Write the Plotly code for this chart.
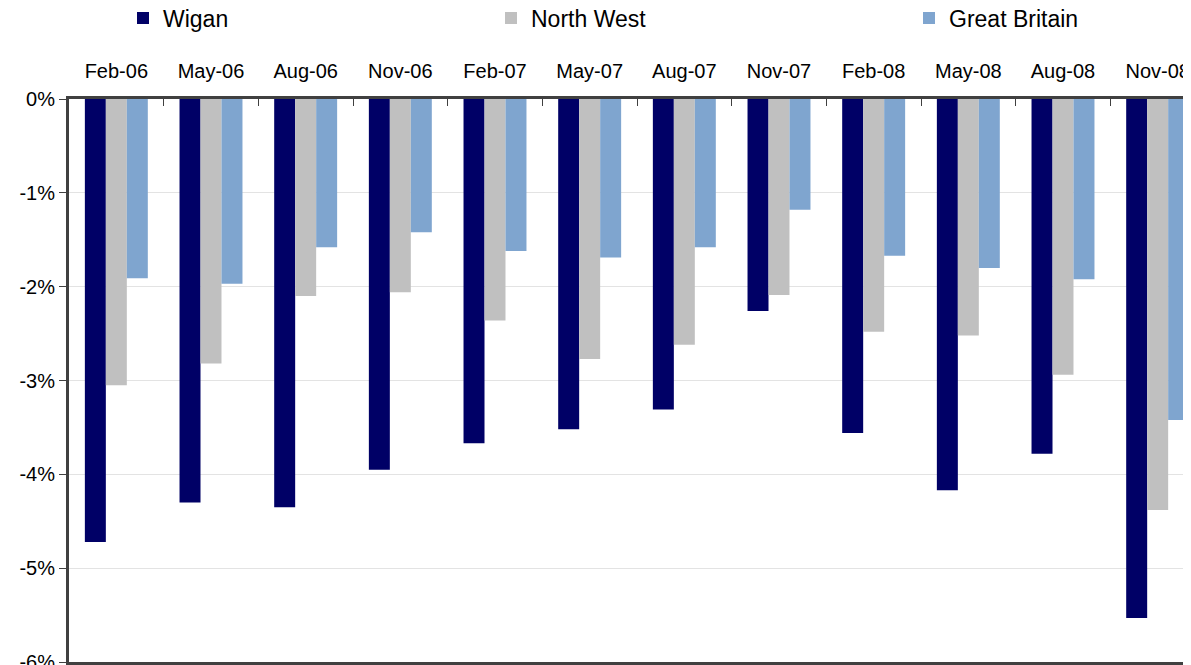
import plotly.graph_objects as go

categories = ["Feb-06", "May-06", "Aug-06", "Nov-06", "Feb-07", "May-07",
              "Aug-07", "Nov-07", "Feb-08", "May-08", "Aug-08", "Nov-08"]
wigan = [-4.72, -4.30, -4.35, -3.95, -3.67, -3.52, -3.31, -2.26, -3.56, -4.17, -3.78, -5.53]
north_west = [-3.05, -2.82, -2.10, -2.06, -2.36, -2.77, -2.62, -2.09, -2.48, -2.52, -2.94, -4.38]
great_britain = [-1.91, -1.97, -1.58, -1.42, -1.62, -1.69, -1.58, -1.18, -1.67, -1.80, -1.92, -3.42]
y_tickvals = [0, -1, -2, -3, -4, -5, -6]
y_ticktext = ["0%", "-1%", "-2%", "-3%", "-4%", "-5%", "-6%"]

FONT = "Liberation Sans, Arial, sans-serif"
W, H = 1197, 665

fig = go.Figure()
fig.add_trace(go.Bar(name="Wigan", x=categories, y=wigan, marker_color="#000066",
                     marker_line_width=0, legend="legend"))
fig.add_trace(go.Bar(name="North West", x=categories, y=north_west, marker_color="#C0C0C0",
                     marker_line_width=0, legend="legend2"))
fig.add_trace(go.Bar(name="Great Britain", x=categories, y=great_britain, marker_color="#7FA5CF",
                     marker_line_width=0, legend="legend3"))

leg_common = dict(orientation="h", xref="container", yref="container", yanchor="middle",
                  y=1 - 10 / H, font=dict(family=FONT, size=23, color="#000000"),
                  itemwidth=30, bgcolor="rgba(0,0,0,0)", traceorder="normal")

fig.update_layout(
    width=W, height=H,
    margin=dict(l=61, r=0, t=91, b=11),
    paper_bgcolor="white", plot_bgcolor="white",
    barmode="group", bargap=0.335, bargroupgap=0,
    font=dict(family=FONT, size=20, color="#000000"),
    legend=dict(x=115 / W, **leg_common),
    legend2=dict(x=483 / W, **leg_common),
    legend3=dict(x=901 / W, **leg_common),
    showlegend=True,
)

fig.update_xaxes(
    side="top", range=[-0.5, 11.5], type="category",
    showline=True, linecolor="#404040", linewidth=3, mirror=True,
    ticks="inside", tickson="boundaries", ticklen=7, tickcolor="#404040", tickwidth=1,
    showgrid=False, ticklabelstandoff=10,
    tickfont=dict(family=FONT, size=20, color="#000000"),
)
fig.update_yaxes(
    range=[-6, 0], tickvals=y_tickvals, ticktext=y_ticktext,
    showline=True, linecolor="#404040", linewidth=3,
    ticks="outside", ticklen=7, tickcolor="#404040", tickwidth=1,
    showgrid=True, gridcolor="#E3E3E3", gridwidth=1, zeroline=False,
    tickfont=dict(family=FONT, size=20, color="#000000"),
)

fig.write_html("out.html")
